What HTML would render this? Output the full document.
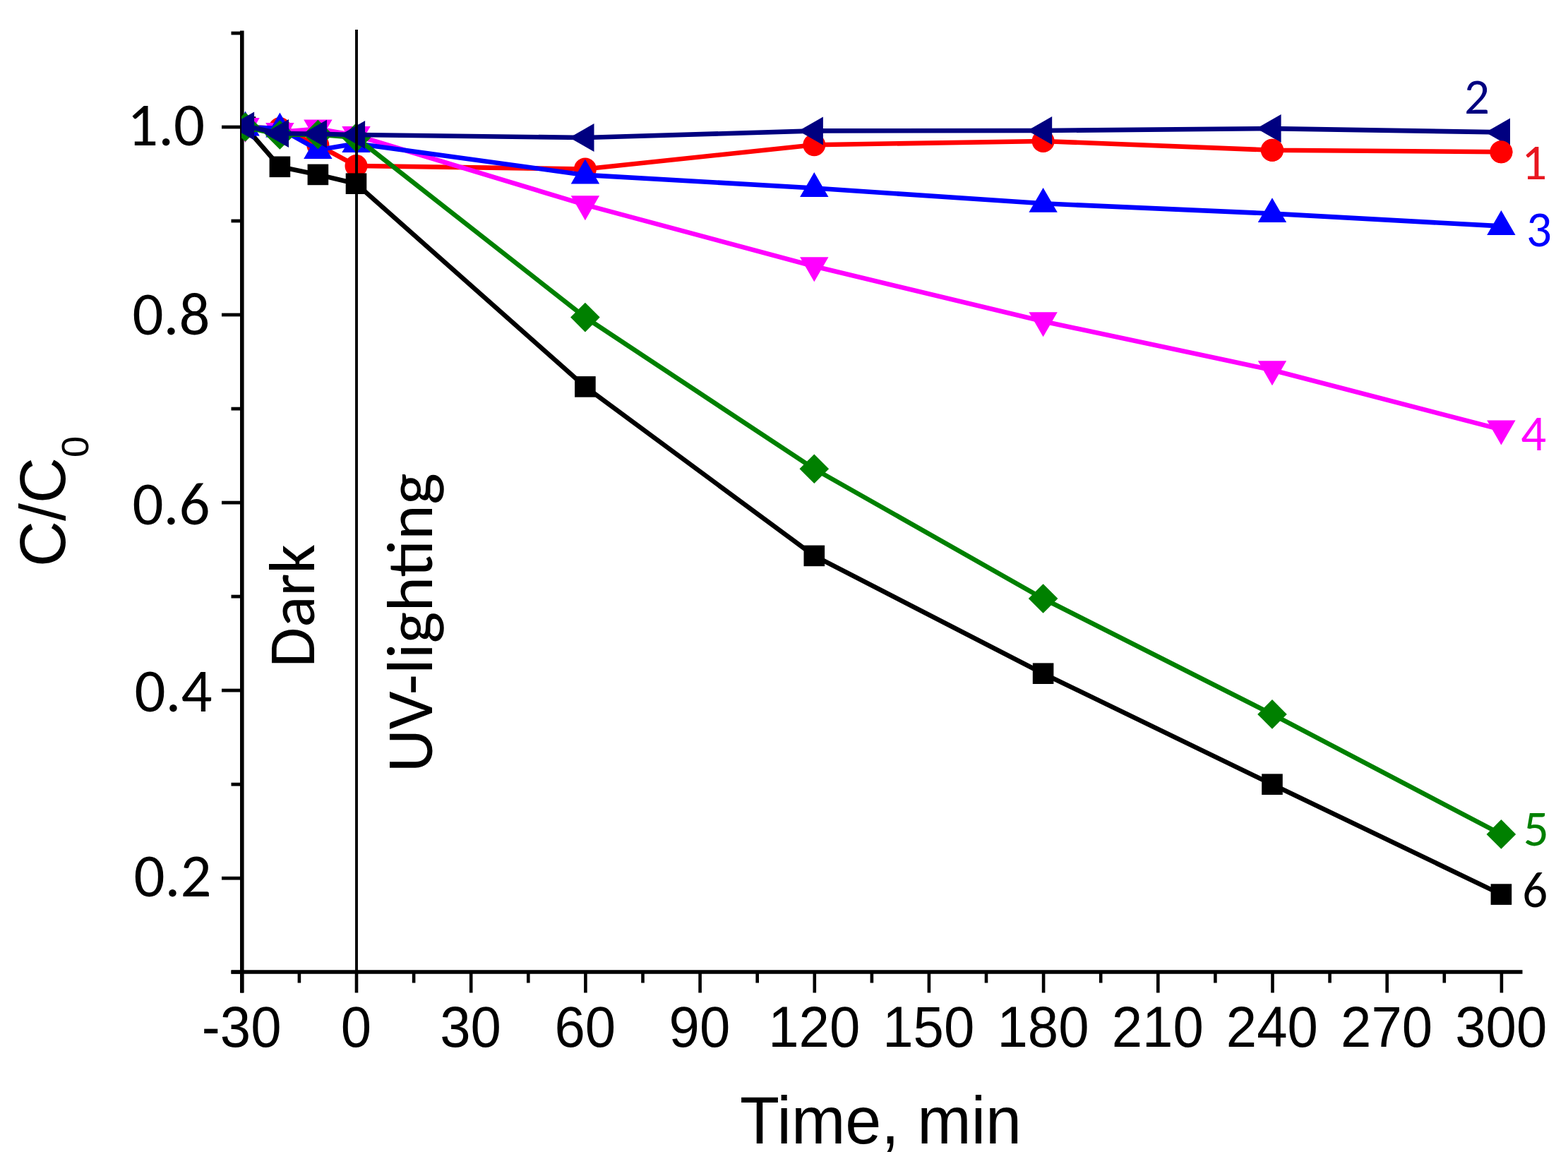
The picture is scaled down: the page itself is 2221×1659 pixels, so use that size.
<!DOCTYPE html>
<html><head><meta charset="utf-8"><title>C/C0 vs Time</title>
<style>
html,body{margin:0;padding:0;background:#fff;}
svg{display:block;}
.cal{font-family:Carlito,"Liberation Sans",sans-serif;}
.ari{font-family:"Liberation Sans",Arial,sans-serif;}
</style></head><body>
<svg width="2221" height="1659" viewBox="0 0 2221 1659">
<rect width="2221" height="1659" fill="#fff"/>
<defs><clipPath id="pc"><rect x="342" y="0" width="1879" height="1659"/></clipPath></defs>
<g stroke="#000" fill="none">
<line x1="342.8" y1="43.5" x2="342.8" y2="1406.5" stroke-width="5.6"/>
<line x1="327.5" y1="1377" x2="2156.5" y2="1377" stroke-width="5.6"/>
<line x1="327.5" y1="1377.2" x2="342.8" y2="1377.2" stroke-width="4.8"/>
<line x1="314" y1="1244.2" x2="342.8" y2="1244.2" stroke-width="4.8"/>
<line x1="327.5" y1="1111.2" x2="342.8" y2="1111.2" stroke-width="4.8"/>
<line x1="314" y1="978.1" x2="342.8" y2="978.1" stroke-width="4.8"/>
<line x1="327.5" y1="845.1" x2="342.8" y2="845.1" stroke-width="4.8"/>
<line x1="314" y1="712.1" x2="342.8" y2="712.1" stroke-width="4.8"/>
<line x1="327.5" y1="579.1" x2="342.8" y2="579.1" stroke-width="4.8"/>
<line x1="314" y1="446" x2="342.8" y2="446" stroke-width="4.8"/>
<line x1="327.5" y1="313" x2="342.8" y2="313" stroke-width="4.8"/>
<line x1="314" y1="180" x2="342.8" y2="180" stroke-width="4.8"/>
<line x1="327.5" y1="47" x2="342.8" y2="47" stroke-width="4.8"/>
<line x1="342.8" y1="1377" x2="342.8" y2="1406.5" stroke-width="4.6"/>
<line x1="423.9" y1="1377" x2="423.9" y2="1392.5" stroke-width="4.6"/>
<line x1="505" y1="1377" x2="505" y2="1406.5" stroke-width="4.6"/>
<line x1="586.1" y1="1377" x2="586.1" y2="1392.5" stroke-width="4.6"/>
<line x1="667.2" y1="1377" x2="667.2" y2="1406.5" stroke-width="4.6"/>
<line x1="748.3" y1="1377" x2="748.3" y2="1392.5" stroke-width="4.6"/>
<line x1="829.4" y1="1377" x2="829.4" y2="1406.5" stroke-width="4.6"/>
<line x1="910.5" y1="1377" x2="910.5" y2="1392.5" stroke-width="4.6"/>
<line x1="991.6" y1="1377" x2="991.6" y2="1406.5" stroke-width="4.6"/>
<line x1="1072.7" y1="1377" x2="1072.7" y2="1392.5" stroke-width="4.6"/>
<line x1="1153.8" y1="1377" x2="1153.8" y2="1406.5" stroke-width="4.6"/>
<line x1="1234.9" y1="1377" x2="1234.9" y2="1392.5" stroke-width="4.6"/>
<line x1="1315.9" y1="1377" x2="1315.9" y2="1406.5" stroke-width="4.6"/>
<line x1="1397" y1="1377" x2="1397" y2="1392.5" stroke-width="4.6"/>
<line x1="1478.1" y1="1377" x2="1478.1" y2="1406.5" stroke-width="4.6"/>
<line x1="1559.2" y1="1377" x2="1559.2" y2="1392.5" stroke-width="4.6"/>
<line x1="1640.3" y1="1377" x2="1640.3" y2="1406.5" stroke-width="4.6"/>
<line x1="1721.4" y1="1377" x2="1721.4" y2="1392.5" stroke-width="4.6"/>
<line x1="1802.5" y1="1377" x2="1802.5" y2="1406.5" stroke-width="4.6"/>
<line x1="1883.6" y1="1377" x2="1883.6" y2="1392.5" stroke-width="4.6"/>
<line x1="1964.7" y1="1377" x2="1964.7" y2="1406.5" stroke-width="4.6"/>
<line x1="2045.8" y1="1377" x2="2045.8" y2="1392.5" stroke-width="4.6"/>
<line x1="2126.9" y1="1377" x2="2126.9" y2="1406.5" stroke-width="4.6"/>
</g>
<g clip-path="url(#pc)">
<g fill="#ff0000">
<polyline points="347.5,180 396.4,182 450.4,205.5 504.5,235 828.9,239.5 1153.3,205.2 1477.6,200 1802,212.7 2126.4,215.3" fill="none" stroke="#ff0000" stroke-width="6.6" stroke-linejoin="miter"/>
<circle cx="347.5" cy="180" r="16"/>
<circle cx="396.4" cy="182" r="16"/>
<circle cx="450.4" cy="205.5" r="16"/>
<circle cx="504.5" cy="235" r="16"/>
<circle cx="828.9" cy="239.5" r="16"/>
<circle cx="1153.3" cy="205.2" r="16"/>
<circle cx="1477.6" cy="200" r="16"/>
<circle cx="1802" cy="212.7" r="16"/>
<circle cx="2126.4" cy="215.3" r="16"/>
</g>
<g fill="#000000">
<polyline points="347.5,180 396.4,236.3 450.4,247.4 504.5,260.2 828.9,547.9 1153.3,787.4 1477.6,954.2 1802,1111.2 2126.4,1267.1" fill="none" stroke="#000000" stroke-width="6.6" stroke-linejoin="miter"/>
<rect x="332.7" y="165.2" width="29.6" height="29.6"/>
<rect x="381.6" y="221.5" width="29.6" height="29.6"/>
<rect x="435.6" y="232.6" width="29.6" height="29.6"/>
<rect x="489.7" y="245.4" width="29.6" height="29.6"/>
<rect x="814.1" y="533.1" width="29.6" height="29.6"/>
<rect x="1138.5" y="772.6" width="29.6" height="29.6"/>
<rect x="1462.8" y="939.4" width="29.6" height="29.6"/>
<rect x="1787.2" y="1096.4" width="29.6" height="29.6"/>
<rect x="2111.6" y="1252.3" width="29.6" height="29.6"/>
</g>
<g fill="#ff00ff">
<polyline points="347.5,180 396.4,187 450.4,182.6 504.5,192 828.9,290.2 1153.3,377.2 1477.6,455.3 1802,524.2 2126.4,608.6" fill="none" stroke="#ff00ff" stroke-width="6.6" stroke-linejoin="miter"/>
<polygon points="347.5,202 367.7,167 327.3,167"/>
<polygon points="396.4,209 416.6,174 376.2,174"/>
<polygon points="450.4,204.6 470.6,169.6 430.2,169.6"/>
<polygon points="504.5,214 524.7,179 484.3,179"/>
<polygon points="828.9,312.2 849.1,277.2 808.7,277.2"/>
<polygon points="1153.3,399.2 1173.5,364.2 1133.1,364.2"/>
<polygon points="1477.6,477.3 1497.8,442.3 1457.4,442.3"/>
<polygon points="1802,546.2 1822.2,511.2 1781.8,511.2"/>
<polygon points="2126.4,630.6 2146.6,595.6 2106.2,595.6"/>
</g>
<g fill="#0000ff">
<polyline points="347.5,180 396.4,182 450.4,212.4 504.5,203.4 828.9,247.9 1153.3,266.5 1477.6,288.3 1802,302.6 2126.4,320.4" fill="none" stroke="#0000ff" stroke-width="6.6" stroke-linejoin="miter"/>
<polygon points="347.5,157.6 367.7,192.5 327.3,192.5"/>
<polygon points="396.4,159.6 416.6,194.5 376.2,194.5"/>
<polygon points="450.4,190 470.6,224.9 430.2,224.9"/>
<polygon points="504.5,181 524.7,215.9 484.3,215.9"/>
<polygon points="828.9,225.5 849.1,260.4 808.7,260.4"/>
<polygon points="1153.3,244.1 1173.5,279 1133.1,279"/>
<polygon points="1477.6,265.9 1497.8,300.8 1457.4,300.8"/>
<polygon points="1802,280.2 1822.2,315.1 1781.8,315.1"/>
<polygon points="2126.4,298 2146.6,332.9 2106.2,332.9"/>
</g>
<g fill="#008000">
<polyline points="347.5,180 396.4,191 450.4,190.5 504.5,195 828.9,449.6 1153.3,664.3 1477.6,848 1802,1011.9 2126.4,1181.9" fill="none" stroke="#008000" stroke-width="6.6" stroke-linejoin="miter"/>
<polygon points="347.5,159.2 368.3,180 347.5,200.8 326.7,180"/>
<polygon points="396.4,170.2 417.2,191 396.4,211.8 375.6,191"/>
<polygon points="450.4,169.7 471.2,190.5 450.4,211.3 429.6,190.5"/>
<polygon points="504.5,174.2 525.3,195 504.5,215.8 483.7,195"/>
<polygon points="828.9,428.8 849.7,449.6 828.9,470.4 808.1,449.6"/>
<polygon points="1153.3,643.5 1174.1,664.3 1153.3,685.1 1132.5,664.3"/>
<polygon points="1477.6,827.2 1498.4,848 1477.6,868.8 1456.8,848"/>
<polygon points="1802,991.1 1822.8,1011.9 1802,1032.7 1781.2,1011.9"/>
<polygon points="2126.4,1161.1 2147.2,1181.9 2126.4,1202.7 2105.6,1181.9"/>
</g>
<g fill="#000080">
<polyline points="347.5,178.5 396.4,189 450.4,189.8 504.5,191 828.9,195 1153.3,185.4 1477.6,185 1802,182.1 2126.4,187.4" fill="none" stroke="#000080" stroke-width="6.6" stroke-linejoin="miter"/>
<polygon points="325.2,178.5 360.1,158.5 360.1,198.5"/>
<polygon points="374.1,189 409,169 409,209"/>
<polygon points="428.1,189.8 463,169.8 463,209.8"/>
<polygon points="482.2,191 517.1,171 517.1,211"/>
<polygon points="806.6,195 841.5,175 841.5,215"/>
<polygon points="1131,185.4 1165.9,165.4 1165.9,205.4"/>
<polygon points="1455.3,185 1490.2,165 1490.2,205"/>
<polygon points="1779.7,182.1 1814.6,162.1 1814.6,202.1"/>
<polygon points="2104.1,187.4 2139,167.4 2139,207.4"/>
</g>
<g fill="#ff0000">
<circle cx="1802" cy="212.7" r="16"/>
<circle cx="2126.4" cy="215.3" r="16"/>
</g>
</g>
<line x1="505" y1="42" x2="505" y2="1377" stroke="#000" stroke-width="3.9"/>
<text class="cal" x="180.1" y="206" font-size="87" textLength="110" lengthAdjust="spacingAndGlyphs">1.0</text>
<text class="cal" x="187.5" y="473.7" font-size="87" textLength="110" lengthAdjust="spacingAndGlyphs">0.8</text>
<text class="cal" x="187.5" y="742.6" font-size="87" textLength="110" lengthAdjust="spacingAndGlyphs">0.6</text>
<text class="cal" x="190.5" y="1008" font-size="87" textLength="110" lengthAdjust="spacingAndGlyphs">0.4</text>
<text class="cal" x="189.5" y="1269.7" font-size="87" textLength="110" lengthAdjust="spacingAndGlyphs">0.2</text>
<text class="ari" transform="translate(342.2,1483.3) scale(1,1.035)" font-size="78" text-anchor="middle">-30</text>
<text class="ari" transform="translate(504.4,1483.3) scale(1,1.035)" font-size="78" text-anchor="middle">0</text>
<text class="ari" transform="translate(666.6,1483.3) scale(1,1.035)" font-size="78" text-anchor="middle">30</text>
<text class="ari" transform="translate(828.8,1483.3) scale(1,1.035)" font-size="78" text-anchor="middle">60</text>
<text class="ari" transform="translate(991,1483.3) scale(1,1.035)" font-size="78" text-anchor="middle">90</text>
<text class="ari" transform="translate(1153.2,1483.3) scale(1,1.035)" font-size="78" text-anchor="middle">120</text>
<text class="ari" transform="translate(1315.3,1483.3) scale(1,1.035)" font-size="78" text-anchor="middle">150</text>
<text class="ari" transform="translate(1477.5,1483.3) scale(1,1.035)" font-size="78" text-anchor="middle">180</text>
<text class="ari" transform="translate(1639.7,1483.3) scale(1,1.035)" font-size="78" text-anchor="middle">210</text>
<text class="ari" transform="translate(1801.9,1483.3) scale(1,1.035)" font-size="78" text-anchor="middle">240</text>
<text class="ari" transform="translate(1964.1,1483.3) scale(1,1.035)" font-size="78" text-anchor="middle">270</text>
<text class="ari" transform="translate(2126.3,1483.3) scale(1,1.035)" font-size="78" text-anchor="middle">300</text>
<text class="ari" transform="translate(1048,1620.3) scale(1,1.035)" font-size="90.5" textLength="399" lengthAdjust="spacingAndGlyphs">Time, min</text>
<text class="ari" transform="translate(91.5,803.1) rotate(-90)" font-size="90">C/C<tspan font-size="54.4" dy="33.3">0</tspan></text>
<text class="cal" transform="translate(445.1,945.4) rotate(-90)" font-size="92" textLength="174.6" lengthAdjust="spacingAndGlyphs">Dark</text>
<text class="cal" transform="translate(611.6,1094.3) rotate(-90)" font-size="92" textLength="424" lengthAdjust="spacingAndGlyphs">UV-lighting</text>
<text class="cal" x="2074" y="161.3" font-size="71" fill="#000080">2</text>
<text class="cal" x="2155.2" y="253.6" font-size="71" fill="#e8161f">1</text>
<text class="cal" x="2162.1" y="348.8" font-size="71" fill="#0000ff">3</text>
<text class="cal" x="2154.3" y="637.7" font-size="71" fill="#ff00ff">4</text>
<text class="cal" x="2157.7" y="1198.1" font-size="71" fill="#008000">5</text>
<text class="cal" x="2156.2" y="1285.2" font-size="71" fill="#000000">6</text>
</svg>
</body></html>
